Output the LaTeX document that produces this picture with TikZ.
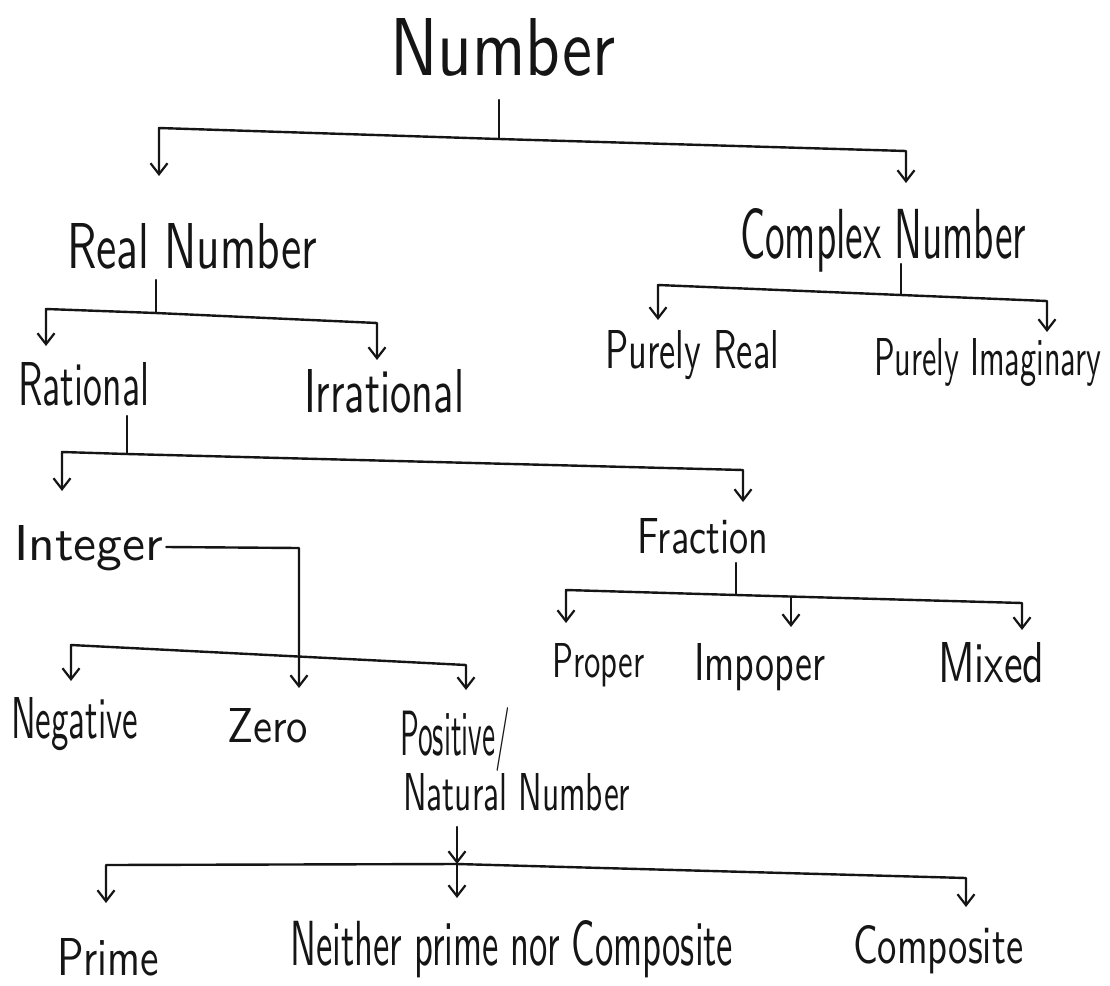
\documentclass[tikz,border=0pt]{standalone}
\usepackage{graphicx}
\usetikzlibrary{arrows.meta}
\definecolor{ink}{HTML}{151515}
\newcommand{\hw}[3]{\resizebox{#1pt}{#2pt}{\sffamily #3}}
\tikzset{
  lbl/.style={anchor=base west, inner sep=0pt, text=ink},
  wire/.style={draw=ink, line width=2.4pt, line join=round, line cap=round},
  arr/.style={wire, -{Straight Barb[length=11pt,width=17pt,line width=2.2pt]}},
  arrs/.style={wire, {Straight Barb[length=11pt,width=17pt,line width=2.2pt]}-{Straight Barb[length=11pt,width=17pt,line width=2.2pt]}}
}
\begin{document}
\begin{tikzpicture}[x=1pt,y=-1pt]
\useasboundingbox (0,0) rectangle (1110,985);
\fill[white] (0,0) rectangle (1110,985);

% ---- labels ----
\node[lbl] (num)  at (390,75)  {\hw{225}{57}{Number}};
\node[lbl] (real) at (67,268)  {\hw{250}{45}{Real Number}};
\node[lbl] (cplx) at (740,258) {\hw{286}{50}{Complex Number}};
\node[lbl] (pr)   at (605,368) {\hw{174}{38}{Purely Real}};
\node[lbl] (pi)   at (874,375) {\hw{227}{37}{Purely Imaginary}};
\node[lbl] (rat)  at (18,405)  {\hw{131}{43}{Rational}};
\node[lbl] (irr)  at (304,412) {\hw{160}{43}{Irrational}};
\node[lbl] (int)  at (14,560)  {\hw{149}{35}{Integer}};
\node[lbl] (frac) at (637,553) {\hw{131}{35}{Fraction}};
\node[lbl] (prop) at (552,677) {\hw{92}{34}{Proper}};
\node[lbl] (imp)  at (694,680) {\hw{131}{37}{Impoper}};
\node[lbl] (mix)  at (938,682) {\hw{106}{40}{Mixed}};
\node[lbl] (neg)  at (11,738)  {\hw{127}{41}{Negative}};
\node[lbl] (zero) at (227,742) {\hw{81}{34}{Zero}};
\node[lbl] (pos)  at (400,755) {\hw{110}{48}{Positive/}};
\node[lbl] (nat)  at (403,810) {\hw{227}{37}{Natural Number}};
\node[lbl] (prime) at (57,975) {\hw{102}{37}{Prime}};
\node[lbl] (nei)  at (290,965) {\hw{443}{45}{Neither prime nor Composite}};
\node[lbl] (comp) at (853,963) {\hw{170}{38}{Composite}};

% ---- junction points ----
\coordinate (num-t) at (499,100);  \coordinate (b1-m) at (499,139);
\coordinate (b1-l) at (159,128);   \coordinate (b1-r) at (906,151);
\coordinate (real-in) at (159,176); \coordinate (cplx-in) at (906,183);

\coordinate (re-t) at (156,280);   \coordinate (b2-m) at (156,313);
\coordinate (b2-l) at (46,309);    \coordinate (b2-r) at (377,323);
\coordinate (rat-in) at (46,346);  \coordinate (irr-in) at (377,360);

\coordinate (cx-t) at (901,264);   \coordinate (cx-m) at (901,295);
\coordinate (cx-l) at (658,285);   \coordinate (cx-r) at (1047,301);
\coordinate (pr-in) at (658,320);  \coordinate (pi-in) at (1047,332);

\coordinate (ra-t) at (127,416);   \coordinate (b3-m) at (127,454);
\coordinate (b3-l) at (62,452);    \coordinate (b3-r) at (743,470);
\coordinate (int-in) at (62,491);  \coordinate (fr-in) at (743,502);

\coordinate (int-c) at (299,548);  \coordinate (zero-in) at (299,688);
\coordinate (b4-l) at (71,645);    \coordinate (b4-r) at (466,665);
\coordinate (neg-in) at (71,681);  \coordinate (pos-in) at (466,690);

\coordinate (fr-t) at (736,563);   \coordinate (b5-m) at (736,595);
\coordinate (b5-l) at (566,590);   \coordinate (b5-r) at (1022,603);
\coordinate (b5-c) at (791,597);
\coordinate (pro-in) at (566,623); \coordinate (imp-in) at (791,627);
\coordinate (mix-in) at (1022,630);

\coordinate (nat-t) at (457,827);  \coordinate (b6-m) at (457,864);
\coordinate (b6-l) at (106,865);   \coordinate (b6-r) at (966,878);
\coordinate (pri-in) at (106,903); \coordinate (nei-in) at (457,898);
\coordinate (com-in) at (966,907);

% ---- connectors ----
\draw[wire] (num-t) -- (b1-m);
\draw[arr] (b1-m) -- (b1-l) -- (real-in);
\draw[arr] (b1-m) -- (b1-r) -- (cplx-in);

\draw[wire] (re-t) -- (b2-m);
\draw[arr] (b2-m) -- (b2-l) -- (rat-in);
\draw[arr] (b2-m) -- (b2-r) -- (irr-in);

\draw[wire] (cx-t) -- (cx-m);
\draw[arr] (cx-m) -- (cx-l) -- (pr-in);
\draw[arr] (cx-m) -- (cx-r) -- (pi-in);

\draw[wire] (ra-t) -- (b3-m);
\draw[arr] (b3-m) -- (b3-l) -- (int-in);
\draw[arr] (b3-m) -- (b3-r) -- (fr-in);

\draw[arr] ([xshift=3pt,yshift=13pt]int.base east) -- (int-c) -- (zero-in);
\draw[arrs] (neg-in) -- (b4-l) -- (b4-r) -- (pos-in);

\draw[wire] (fr-t) -- (b5-m);
\draw[arr] (b5-m) -- (b5-l) -- (pro-in);
\draw[arr] (b5-m) -- (b5-r) -- (mix-in);
\draw[arr] (b5-c) -- (imp-in);

\draw[arr] (nat-t) -- (b6-m);
\draw[arr] (b6-m) -- (nei-in);
\draw[arr] (b6-m) -- (b6-l) -- (pri-in);
\draw[arr] (b6-m) -- (b6-r) -- (com-in);
\end{tikzpicture}
\end{document}
